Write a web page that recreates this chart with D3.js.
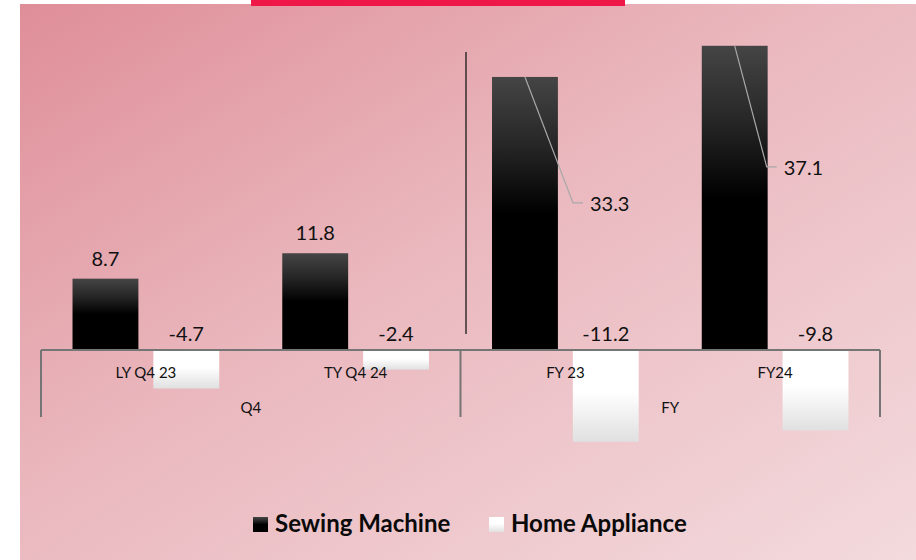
<!DOCTYPE html>
<html>
<head>
<meta charset="utf-8">
<script src="https://cdn.jsdelivr.net/npm/d3@7"></script>
<style>
  html, body { margin: 0; padding: 0; background: #ffffff; }
  svg { display: block; }
</style>
</head>
<body>
<div id="chart"></div>
<script>
// ---- data ----
const categories = ["LY Q4 23", "TY Q4 24", "FY 23", "FY24"];
const groups = ["Q4", "FY"];
const groupMembers = [["LY Q4 23", "TY Q4 24"], ["FY 23", "FY24"]];
const seriesNames = ["Sewing Machine", "Home Appliance"];
const sewingMachine = [8.7, 11.8, 33.3, 37.1];
const homeAppliance = [-4.7, -2.4, -11.2, -9.8];

// ---- layout ----
const W = 916, H = 560;
const svg = d3.select("#chart").append("svg").attr("width", W).attr("height", H);
const defs = svg.append("defs");

const bg = defs.append("linearGradient").attr("id", "bg")
  .attr("x1", "0%").attr("y1", "0%").attr("x2", "100%").attr("y2", "100%");
bg.append("stop").attr("offset", "0%").attr("stop-color", "#df8e98");
bg.append("stop").attr("offset", "45%").attr("stop-color", "#eab8be");
bg.append("stop").attr("offset", "100%").attr("stop-color", "#f3dadd");

const gDark = defs.append("linearGradient").attr("id", "gDark")
  .attr("x1", "0").attr("y1", "0").attr("x2", "0").attr("y2", "1");
gDark.append("stop").attr("offset", "0%").attr("stop-color", "#454545");
gDark.append("stop").attr("offset", "25%").attr("stop-color", "#262626");
gDark.append("stop").attr("offset", "50%").attr("stop-color", "#000000");
gDark.append("stop").attr("offset", "100%").attr("stop-color", "#000000");

const gLight = defs.append("linearGradient").attr("id", "gLight")
  .attr("x1", "0").attr("y1", "0").attr("x2", "0").attr("y2", "1");
gLight.append("stop").attr("offset", "0%").attr("stop-color", "#ffffff");
gLight.append("stop").attr("offset", "45%").attr("stop-color", "#ffffff");
gLight.append("stop").attr("offset", "100%").attr("stop-color", "#e0e0e0");

svg.append("rect").attr("x", 20).attr("y", 4).attr("width", W - 20).attr("height", H - 4)
  .attr("fill", "url(#bg)");
svg.append("rect").attr("x", 251).attr("y", 0).attr("width", 374).attr("height", 6)
  .attr("fill", "#ee1747");

const x = d3.scaleBand().domain(categories).range([41, 880]).paddingInner(0).paddingOuter(0);
const xs = d3.scaleBand().domain(seriesNames).range([0, x.bandwidth()])
  .paddingInner(0.185).paddingOuter(0.39);
const y = d3.scaleLinear().domain([-15, 40]).range([473, 22]);

const fills = { "Sewing Machine": "url(#gDark)", "Home Appliance": "url(#gLight)" };
const rows = categories.map((c, i) => ({ cat: c, vals: [
  { s: "Sewing Machine", v: sewingMachine[i] },
  { s: "Home Appliance", v: homeAppliance[i] }] }));

// decorative vertical separator line
svg.append("line").attr("x1", 466).attr("x2", 466).attr("y1", 52).attr("y2", 334)
  .attr("stroke", "#1a1a1a").attr("stroke-width", 1.3);

const catG = svg.selectAll("g.cat").data(rows).join("g")
  .attr("transform", d => `translate(${x(d.cat)},0)`);
catG.selectAll("rect").data(d => d.vals).join("rect")
  .attr("x", d => xs(d.s))
  .attr("width", xs.bandwidth())
  .attr("y", d => d.v >= 0 ? y(d.v) : y(0))
  .attr("height", d => Math.abs(y(d.v) - y(0)))
  .attr("fill", d => fills[d.s]);

// axis
const axisColor = "#757575";
const y0 = y(0);
svg.append("line").attr("x1", x.range()[0]).attr("x2", x.range()[1]).attr("y1", y0).attr("y2", y0)
  .attr("stroke", axisColor).attr("stroke-width", 2);
const bounds = [x(groupMembers[0][0]), x(groupMembers[1][0]), x.range()[1]];
svg.selectAll("line.gtick").data(bounds).join("line")
  .attr("x1", d => d).attr("x2", d => d).attr("y1", y0).attr("y2", 417)
  .attr("stroke", axisColor).attr("stroke-width", 2);

const font = "Lato, 'Open Sans', sans-serif";
svg.selectAll("text.cat").data(categories).join("text")
  .attr("x", d => x(d) + x.bandwidth() / 2).attr("y", 378)
  .attr("text-anchor", "middle").attr("font-family", font).attr("font-size", 15)
  .attr("fill", "#111").text(d => d);
svg.selectAll("text.grp").data(groups).join("text")
  .attr("x", (d, i) => (x(groupMembers[i][0]) + x(groupMembers[i][1]) + x.bandwidth()) / 2)
  .attr("y", 413)
  .attr("text-anchor", "middle").attr("font-family", font).attr("font-size", 15)
  .attr("fill", "#111").text(d => d);

// data labels
const fmt = v => d3.format(".1f")(v).replace("\u2212", "-");
// leader offsets (pixels) for labels pulled out of tall bars; null = label above/below bar
const leaderOffsets = [null, null, { dx: 48, dy: 126 }, { dx: 32, dy: 121 }];
const labelFont = 20;
rows.forEach((r, i) => {
  r.vals.forEach(d => {
    const cx = x(r.cat) + xs(d.s) + xs.bandwidth() / 2;
    const lo = leaderOffsets[i];
    if (d.s === "Sewing Machine" && lo) {
      const ty = y(d.v);
      const ex = cx + lo.dx, ey = ty + lo.dy;
      svg.append("path")
        .attr("d", `M${cx},${ty}L${ex},${ey}L${ex + 10},${ey}`)
        .attr("fill", "none").attr("stroke", "#a8a8a8").attr("stroke-width", 1.2);
      svg.append("text").attr("x", ex + 17).attr("y", ey + 8)
        .attr("font-family", font).attr("font-size", labelFont).attr("fill", "#111")
        .text(fmt(d.v));
    } else if (d.v >= 0) {
      svg.append("text").attr("x", cx).attr("y", y(d.v) - 13)
        .attr("text-anchor", "middle")
        .attr("font-family", font).attr("font-size", labelFont).attr("fill", "#111")
        .text(fmt(d.v));
    } else {
      svg.append("text").attr("x", cx).attr("y", y0 - 9)
        .attr("text-anchor", "middle")
        .attr("font-family", font).attr("font-size", labelFont).attr("fill", "#111")
        .text(fmt(d.v));
    }
  });
});

// legend
const legend = svg.append("g");
const legItems = [
  { name: seriesNames[0], fill: "url(#gDark)", x: 253 },
  { name: seriesNames[1], fill: "url(#gLight)", x: 489 }
];
legItems.forEach(it => {
  legend.append("rect").attr("x", it.x).attr("y", 517).attr("width", 15).attr("height", 15)
    .attr("fill", it.fill);
  legend.append("text").attr("x", it.x + 22).attr("y", 532)
    .attr("font-family", font).attr("font-weight", "bold").attr("font-size", 24)
    .attr("fill", "#0a0a0a").text(it.name);
});
</script>
</body>
</html>
